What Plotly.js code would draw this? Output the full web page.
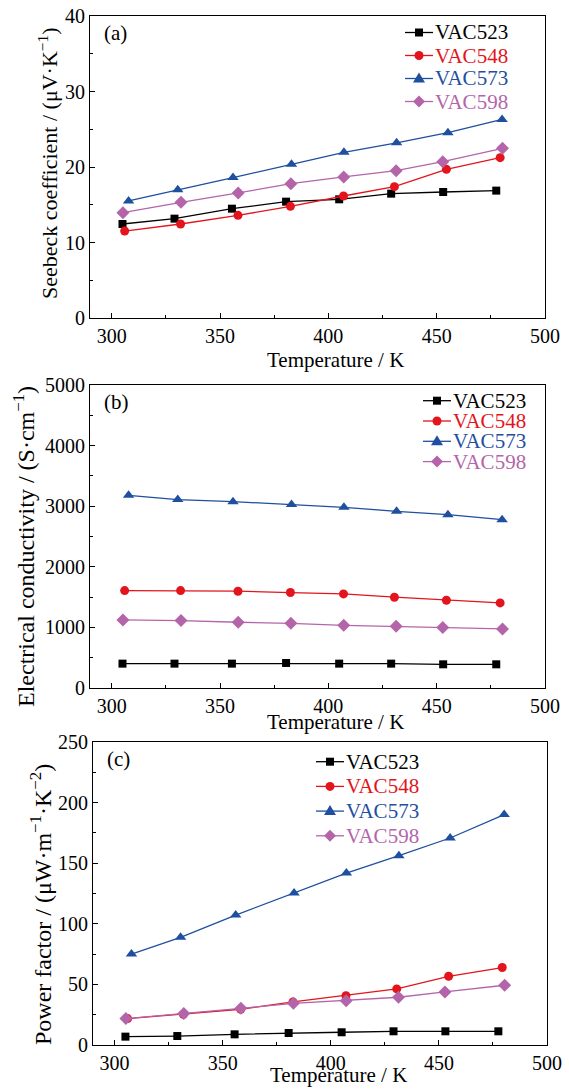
<!DOCTYPE html>
<html>
<head>
<meta charset="utf-8">
<script src="https://cdn.plot.ly/plotly-3.0.1.min.js"></script>
<style>html,body{margin:0;padding:0;background:#fff;}#chart{width:569px;height:1089px;}</style>
</head>
<body>
<div id="chart"></div>
<script>
// ---- Data ----
const seriesNames = ["VAC523", "VAC548", "VAC573", "VAC598"];

const temp523 = [305, 329, 355.5, 380.5, 405, 429, 453, 477.5];
const temp548 = [306, 331.8, 358.3, 382.5, 407, 430.5, 454.5, 479.3];
const temp573 = [307.8, 330.5, 356, 383, 407.2, 431.5, 455.2, 480.2];
const temp598 = [305.2, 332, 358.4, 382.7, 407.1, 431.3, 452.8, 480.4];

// (a) Seebeck coefficient / (uV K^-1)
const seebeck523 = [12.45, 13.16, 14.48, 15.41, 15.72, 16.47, 16.69, 16.87];
const seebeck548 = [11.52, 12.45, 13.6, 14.79, 16.16, 17.4, 19.69, 21.24];
const seebeck573 = [15.5, 17.0, 18.6, 20.35, 21.95, 23.2, 24.55, 26.3];
const seebeck598 = [13.95, 15.32, 16.56, 17.79, 18.68, 19.51, 20.71, 22.47];

// (b) Electrical conductivity / (S cm^-1)
const cond523 = [402, 402, 402, 413, 402, 402, 391, 391];
const cond548 = [1608, 1608, 1597, 1575, 1553, 1498, 1448, 1404];
const cond573 = [3180, 3110, 3075, 3030, 2982, 2916, 2860, 2778];
const cond598 = [1123, 1112, 1085, 1068, 1035, 1019, 997, 975];

// (c) Power factor / (uW m^-1 K^-2)
const pf523 = [6.9, 7.4, 8.8, 9.9, 10.5, 11.3, 11.3, 11.3];
const pf548 = [21.8, 25.3, 29.5, 35.5, 40.7, 46.3, 56.7, 63.9];
const pf573 = [75.0, 88.8, 107.2, 125.4, 141.9, 156.2, 170.8, 190.1];
const pf598 = [21.8, 25.9, 30.3, 34.4, 36.6, 39.4, 43.8, 49.3];

const xTitle = "Temperature / K";
const yTitles = [
  "Seebeck coefficient / (μV·K<sup>−1</sup>)",
  "Electrical conductivity / (S·cm<sup>−1</sup>)",
  "Power factor / (μW·m<sup>−1</sup>·K<sup>−2</sup>)"
];
const panelLabels = ["(a)", "(b)", "(c)"];

// ---- Styling / layout (pixels) ----
const W = 569, H = 1089;
const FONT = "Liberation Serif, Times New Roman, serif";
const colors = ["#000000", "#e3141c", "#1f4f9f", "#b465aa"];
const symbols = ["square", "circle", "triangle-up", "diamond"];
const msizes = [8, 9, 10, 10];
const temps = [temp523, temp548, temp573, temp598];
const panelData = [
  [seebeck523, seebeck548, seebeck573, seebeck598],
  [cond523, cond548, cond573, cond598],
  [pf523, pf548, pf573, pf598]
];

function px(x) { return x / W; }
function py(y) { return 1 - y / H; }

// pixel boxes for each panel [left, right, top, bottom]
const boxes = [[90, 545, 16, 318], [90, 545, 385, 688], [93, 547, 742, 1045]];
const yRanges = [[0, 40], [0, 5000], [0, 250]];
const yDticks = [10, 1000, 50];
const yMinor = [5, 500, 25];
// y-title: [centerX, centerY, fontSize]
const yTitlePos = [[48, 163, 22], [24, 547, 24], [41, 905, 24]];
// x-title: [centerX, centerY]
const xTitlePos = [[335, 360], [335, 722], [338, 1075]];
// legend: [lineStartX, firstRowY, rowGap]
const legendPos = [[405, 32.5, 23], [423, 400.7, 20.3], [316, 761.7, 24.7]];

const traces = [];
const shapes = [];
const annotations = [];
const layout = {
  width: W, height: H,
  margin: {l: 0, r: 0, t: 0, b: 0},
  paper_bgcolor: "#ffffff", plot_bgcolor: "#ffffff",
  font: {family: FONT, color: "#000"},
  showlegend: false,
  shapes: shapes,
  annotations: annotations
};

function legendKey(s, x0, y) {
  const c = colors[s];
  const cx = x0 + 14;
  shapes.push({type: "line", xref: "paper", yref: "paper",
    x0: px(x0), x1: px(x0 + 28), y0: py(y), y1: py(y), line: {color: c, width: 1.3}});
  const P = (a, b) => px(a) + "," + py(b);
  if (symbols[s] === "square") {
    shapes.push({type: "rect", xref: "paper", yref: "paper",
      x0: px(cx - 4), x1: px(cx + 4), y0: py(y + 4), y1: py(y - 4),
      fillcolor: c, line: {width: 0}});
  } else if (symbols[s] === "circle") {
    shapes.push({type: "circle", xref: "paper", yref: "paper",
      x0: px(cx - 4.5), x1: px(cx + 4.5), y0: py(y + 4.5), y1: py(y - 4.5),
      fillcolor: c, line: {width: 0}});
  } else if (symbols[s] === "triangle-up") {
    shapes.push({type: "path", xref: "paper", yref: "paper",
      path: "M" + P(cx, y - 6) + "L" + P(cx + 6, y + 4) + "L" + P(cx - 6, y + 4) + "Z",
      fillcolor: c, line: {width: 0}});
  } else {
    shapes.push({type: "path", xref: "paper", yref: "paper",
      path: "M" + P(cx, y - 6) + "L" + P(cx + 6, y) + "L" + P(cx, y + 6) + "L" + P(cx - 6, y) + "Z",
      fillcolor: c, line: {width: 0}});
  }
}

for (let p = 0; p < 3; p++) {
  const sfx = p === 0 ? "" : String(p + 1);
  const b = boxes[p];
  layout["xaxis" + sfx] = {
    domain: [px(b[0]), px(b[1])],
    anchor: "y" + sfx,
    range: [290, 500], tick0: 300, dtick: 50,
    ticks: "inside", ticklen: 5, tickwidth: 1, tickcolor: "#000",
    minor: {ticks: "inside", ticklen: 3, dtick: 25, tickcolor: "#000", showgrid: false},
    showline: true, linecolor: "#000", linewidth: 1, mirror: true,
    showgrid: false, zeroline: false, automargin: false,
    tickfont: {family: FONT, size: 20, color: "#000"}
  };
  layout["yaxis" + sfx] = {
    domain: [py(b[3]), py(b[2])],
    anchor: "x" + sfx,
    range: yRanges[p], tick0: 0, dtick: yDticks[p],
    ticks: "inside", ticklen: 5, tickwidth: 1, tickcolor: "#000",
    minor: {ticks: "inside", ticklen: 3, dtick: yMinor[p], tickcolor: "#000", showgrid: false},
    showline: true, linecolor: "#000", linewidth: 1, mirror: true,
    showgrid: false, zeroline: false, automargin: false,
    tickfont: {family: FONT, size: 20, color: "#000"}
  };
  // panel label
  annotations.push({
    text: panelLabels[p], xref: "paper", yref: "paper",
    x: px(b[0] + 12), xanchor: "left", y: py(b[2] + 17), yanchor: "middle",
    showarrow: false, font: {family: FONT, size: 21, color: "#000"}
  });
  // x-axis title
  annotations.push({
    text: xTitle, xref: "paper", yref: "paper",
    x: px(xTitlePos[p][0]), xanchor: "center", y: py(xTitlePos[p][1]), yanchor: "middle",
    showarrow: false, borderpad: 0, font: {family: FONT, size: 21, color: "#000"}
  });
  // y-axis title
  annotations.push({
    text: yTitles[p], xref: "paper", yref: "paper", textangle: -90,
    x: px(yTitlePos[p][0]), xanchor: "center", y: py(yTitlePos[p][1]), yanchor: "middle",
    showarrow: false, borderpad: 0, font: {family: FONT, size: yTitlePos[p][2], color: "#000"}
  });
  const lg = legendPos[p];
  for (let s = 0; s < 4; s++) {
    traces.push({
      type: "scatter", mode: "lines+markers",
      x: temps[s], y: panelData[p][s],
      xaxis: "x" + sfx, yaxis: "y" + sfx,
      name: seriesNames[s],
      line: {color: colors[s], width: 1.3},
      marker: {symbol: symbols[s], size: msizes[s], color: colors[s], line: {width: 0}},
      hoverinfo: "x+y"
    });
    const rowY = lg[1] + s * lg[2];
    legendKey(s, lg[0], rowY);
    annotations.push({
      text: seriesNames[s], xref: "paper", yref: "paper",
      x: px(lg[0] + 29), xanchor: "left", y: py(rowY), yanchor: "middle",
      showarrow: false, borderpad: 0, font: {family: FONT, size: 21, color: colors[s]}
    });
  }
}

Plotly.newPlot("chart", traces, layout, {staticPlot: true, displayModeBar: false});
</script>
</body>
</html>
